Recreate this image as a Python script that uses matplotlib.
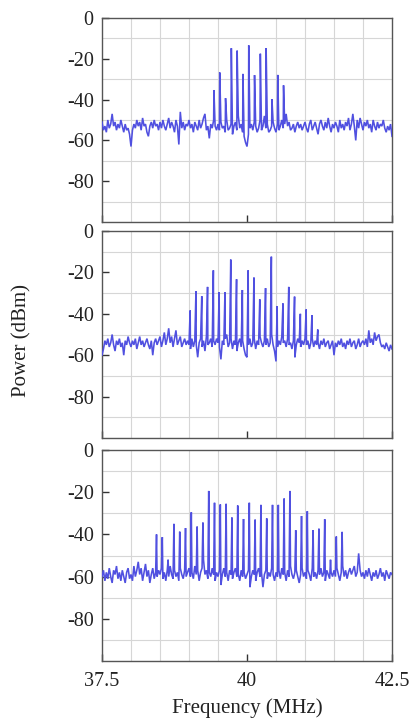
import numpy as np
import matplotlib
matplotlib.use("Agg")
import matplotlib.pyplot as plt

# ---------------- data ----------------
f_start, f_step = 37.5, 0.025   # noise-floor sample grid (MHz)

noise1 = [-51,-55,-53,-56,-50,-54,-52,-47,-53,-51,-55,-52,-54,-50,-53,-56,-52,-55,-54,-57,
          -63,-55,-52,-54,-50,-53,-51,-55,-49,-53,-52,-56,-58,-53,-51,-54,-50,-53,-52,-55,
          -51,-54,-50,-53,-55,-52,-49,-54,-51,-53,-56,-50,-53,-62,-46,-54,-51,-55,-52,-53,
          -50,-54,-52,-56,-51,-53,-55,-50,-54,-52,-49,-47,-55,-53,-59,-52,-54,-50,-53,-55,
          -52,-55,-51,-54,-53,-56,-50,-55,-54,-52,-57,-53,-51,-55,-48,-54,-52,-56,-58,-61,
          -63,-57,-54,-52,-55,-51,-53,-56,-54,-50,-55,-53,-48,-54,-52,-56,-55,-53,-51,-54,
          -56,-52,-55,-53,-50,-54,-52,-47,-53,-51,-55,-54,-52,-56,-53,-51,-54,-52,-55,-53,
          -51,-54,-56,-52,-50,-55,-53,-51,-54,-57,-52,-50,-53,-55,-51,-54,-49,-53,-56,-52,
          -54,-51,-53,-56,-50,-54,-52,-55,-51,-53,-49,-55,-52,-47,-53,-60,-50,-54,-49,-52,
          -55,-51,-53,-50,-54,-52,-56,-50,-53,-55,-51,-54,-52,-53,-50,-54,-56,-53,-55,-52,
          -58]
noise2 = [-60,-57,-53,-55,-52,-56,-54,-50,-55,-58,-53,-55,-52,-56,-54,-60,-53,-55,-51,-54,
          -56,-53,-55,-52,-57,-54,-51,-55,-53,-56,-54,-52,-55,-57,-53,-60,-54,-52,-55,-53,
          -51,-56,-53,-49,-55,-52,-47,-54,-51,-56,-52,-48,-55,-53,-51,-56,-54,-52,-55,-53,
          -55,-57,-52,-56,-53,-55,-61,-54,-52,-56,-53,-58,-51,-55,-54,-52,-56,-53,-55,-52,
          -54,-56,-62,-53,-55,-52,-50,-56,-54,-52,-57,-53,-55,-58,-54,-52,-56,-53,-57,-60,
          -61,-55,-52,-56,-54,-52,-57,-53,-55,-51,-54,-56,-53,-55,-52,-56,-54,-50,-55,-58,
          -63,-56,-53,-55,-51,-54,-53,-56,-52,-55,-54,-57,-53,-61,-55,-52,-54,-56,-53,-55,
          -52,-55,-53,-57,-54,-52,-56,-53,-55,-54,-57,-53,-55,-52,-56,-54,-53,-57,-55,-53,
          -60,-54,-56,-53,-55,-52,-56,-54,-57,-53,-55,-52,-56,-54,-53,-57,-55,-52,-56,-54,
          -53,-55,-52,-56,-48,-54,-52,-55,-49,-53,-51,-50,-54,-56,-55,-57,-54,-56,-58,-55,
          -57]
noise3 = [-60,-57,-62,-58,-61,-56,-60,-63,-57,-59,-55,-61,-58,-62,-57,-60,-63,-58,-56,-61,
          -59,-62,-55,-60,-57,-53,-59,-56,-62,-58,-54,-60,-57,-63,-59,-56,-61,-58,-60,-57,
          -59,-56,-61,-58,-62,-57,-60,-55,-59,-61,-57,-60,-58,-62,-56,-59,-61,-57,-60,-58,
          -56,-60,-58,-61,-55,-59,-57,-62,-58,-56,-52,-59,-57,-61,-58,-60,-56,-59,-62,-58,
          -60,-57,-64,-59,-56,-60,-58,-62,-57,-59,-61,-58,-56,-60,-59,-62,-57,-60,-58,-61,
          -59,-57,-65,-60,-57,-59,-62,-58,-56,-60,-58,-65,-59,-57,-61,-58,-60,-56,-59,-62,
          -58,-60,-57,-61,-56,-59,-58,-62,-57,-60,-55,-59,-61,-58,-57,-60,-63,-59,-56,-60,
          -58,-61,-57,-59,-62,-56,-60,-58,-61,-57,-59,-56,-60,-58,-62,-57,-59,-61,-58,-60,
          -57,-60,-56,-59,-62,-58,-55,-60,-57,-61,-58,-56,-59,-57,-55,-60,-58,-49,-57,-60,
          -58,-61,-57,-60,-56,-59,-62,-58,-60,-57,-61,-59,-56,-60,-58,-62,-57,-59,-61,-58,
          -59]

peak_f1 = [39.43, 39.53, 39.63, 39.73, 39.83, 39.93, 40.03, 40.13, 40.23, 40.33, 40.43, 40.53, 40.63]
peak_p1 = [-35.3, -26.7, -39.3, -14.8, -16.0, -27.4, -13.4, -28.0, -17.5, -14.8, -39.8, -27.9, -33.0]

peak_f2 = [39.02, 39.12, 39.22, 39.32, 39.42, 39.52, 39.62, 39.72, 39.82, 39.92, 40.02, 40.12,
           40.22, 40.32, 40.42, 40.52, 40.62, 40.72, 40.82, 40.92, 41.02, 41.12, 41.22]
peak_p2 = [-38.4, -29.0, -31.5, -27.0, -19.0, -29.5, -29.5, -13.8, -23.3, -28.5, -19.0, -22.5,
           -33.0, -27.6, -12.4, -36.3, -35.0, -27.0, -31.7, -40.0, -37.9, -40.7, -47.6]

peak_f3 = [38.44, 38.54, 38.64, 38.74, 38.84, 38.94, 39.04, 39.14, 39.24, 39.34, 39.44, 39.54,
           39.64, 39.74, 39.84, 39.94, 40.04, 40.14, 40.24, 40.34, 40.44, 40.54, 40.64, 40.74,
           40.84, 40.94, 41.04, 41.14, 41.24, 41.34, 41.44, 41.54, 41.64]
peak_p3 = [-40.0, -41.3, -52.0, -35.0, -38.7, -37.0, -29.5, -36.3, -34.4, -19.4, -25.0, -25.8,
           -25.5, -32.0, -26.3, -32.7, -25.0, -33.0, -26.0, -32.4, -26.0, -26.0, -23.0, -19.4,
           -38.0, -31.3, -29.0, -38.0, -37.3, -32.8, -52.0, -41.0, -38.8]

x_ticks = [37.5, 40, 42.5]
x_ticklabels = ["37.5", "40", "42.5"]
y_ticks = [0, -20, -40, -60, -80]
y_ticklabels = ["0", "-20", "-40", "-60", "-80"]

# ---------------- style ----------------
plt.rcParams['font.family'] = ['Liberation Serif', 'DejaVu Serif']
plt.rcParams['axes.unicode_minus'] = False

W, H = 412, 725
fig = plt.figure(figsize=(W / 100, H / 100), dpi=100)

# panel boxes in pixels: (top, bottom)
boxes = [(18, 222), (231, 438), (450, 661)]
left_px, right_px = 102, 392

line_color = '#5050e0'
frame_color = '#555555'
grid_color = '#d6d6d6'

panels = [(noise1, peak_f1, peak_p1), (noise2, peak_f2, peak_p2), (noise3, peak_f3, peak_p3)]

for i, ((top, bot), (noise, pf, pp)) in enumerate(zip(boxes, panels)):
    ax = fig.add_axes([left_px / W, 1 - bot / H, (right_px - left_px) / W, (bot - top) / H])
    fn = f_start + f_step * np.arange(len(noise))
    f_all = np.concatenate([fn, np.asarray(pf)])
    p_all = np.concatenate([np.asarray(noise, float), np.asarray(pp, float)])
    order = np.argsort(f_all, kind='stable')
    ax.plot(f_all[order], p_all[order], color=line_color, lw=1.15, zorder=3,
            solid_joinstyle='miter')

    ax.set_xlim(37.5, 42.5)
    ax.set_ylim(-100, 0)
    ax.set_xticks(np.arange(37.5, 42.51, 0.5), minor=True)
    ax.set_yticks(np.arange(-100, 0.1, 10), minor=True)
    ax.grid(True, which='minor', color=grid_color, lw=0.8, zorder=0)
    ax.set_xticks(x_ticks)
    ax.set_yticks(y_ticks)
    ax.set_yticklabels(y_ticklabels)
    ax.tick_params(which='minor', length=0)
    ax.tick_params(which='major', direction='in', length=5, width=1, color='#333333',
                   labelsize=14.5, labelcolor='#222222', pad=6)
    if i == 2:
        ax.set_xticklabels(x_ticklabels)
        ax.tick_params(axis='x', pad=8)
        ax.set_xlabel('Frequency (MHz)', fontsize=15, color='#222222', labelpad=5)
    else:
        ax.set_xticklabels([])
    for s in ax.spines.values():
        s.set_color(frame_color)
        s.set_linewidth(1.0)
    ax.set_axisbelow(True)

fig.text(22 / W, 1 - 340 / H, 'Power (dBm)', rotation=90, ha='center', va='center',
         fontsize=15, color='#222222')

fig.savefig('out.png', dpi=100, facecolor='white')
